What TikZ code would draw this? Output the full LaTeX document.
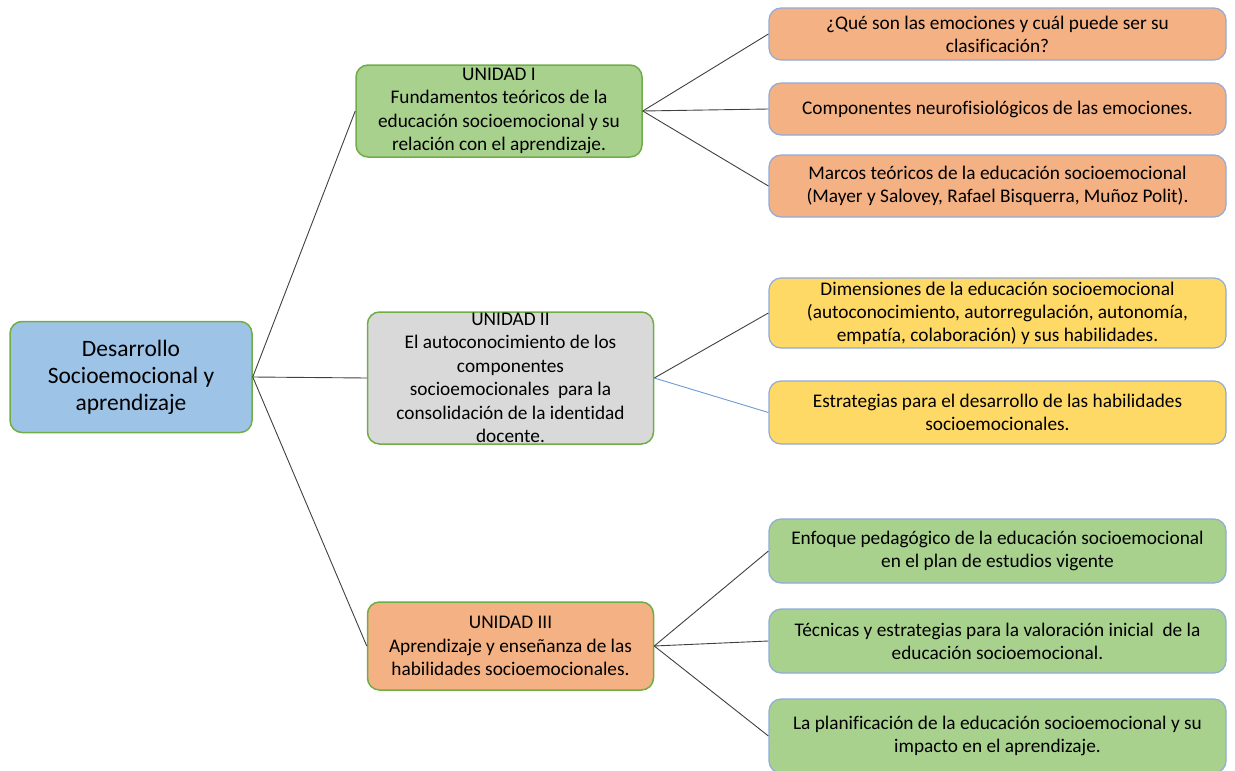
\documentclass[tikz,border=0pt]{standalone}
\usepackage{fontspec}
\setmainfont{Carlito}[Ligatures=NoCommon]
\usepackage{tikz}
\usetikzlibrary{positioning}

\definecolor{azulraiz}{HTML}{9DC3E6}
\definecolor{verdeborde}{HTML}{70AD47}
\definecolor{verdefondo}{HTML}{A9D18E}
\definecolor{grisfondo}{HTML}{D9D9D9}
\definecolor{naranjafondo}{HTML}{F4B183}
\definecolor{amarillofondo}{HTML}{FFD966}
\definecolor{bordeazul}{HTML}{8FAADC}
\definecolor{lineagris}{HTML}{404040}
\definecolor{lineaazul}{HTML}{6A9BD3}

\begin{document}
\begin{tikzpicture}[x=1pt,y=-1pt,
        caja/.style={rounded corners=12pt, align=center, inner sep=0pt, text=black},
        raizbox/.style={caja, draw=verdeborde, line width=1.5pt, fill=azulraiz,
            minimum width=242pt, minimum height=111pt, font=\fontsize{23.5}{27}\selectfont},
        unidadbox/.style={caja, draw=verdeborde, line width=1.5pt,
            minimum width=286pt, font=\fontsize{19.3}{23.5}\selectfont},
        temabox/.style={caja, draw=bordeazul, line width=1.2pt,
            minimum width=457pt, font=\fontsize{19.3}{23}\selectfont},
        rama/.style={draw=lineagris, line width=0.9pt}]
    \useasboundingbox (0,0) rectangle (1235,771);

    % raiz
    \node[raizbox] (raiz) at (131,377) {Desarrollo\\Socioemocional y\\aprendizaje};

    % unidades
    \node[unidadbox, fill=verdefondo, minimum height=92pt] (u1) at (499,111)
        {UNIDAD I\\Fundamentos teóricos de la\\educación socioemocional y su\\relación con el aprendizaje.};
    \node[unidadbox, fill=grisfondo, minimum height=132pt] (u2) at (510.5,378)
        {UNIDAD II\\El autoconocimiento de los\\componentes\\socioemocionales\ \ para la\\consolidación de la identidad\\docente.};
    \node[unidadbox, fill=naranjafondo, minimum height=88pt] (u3) at (510.5,646)
        {UNIDAD III\\Aprendizaje y enseñanza de las\\habilidades socioemocionales.};

    % temas unidad I
    \node[temabox, fill=naranjafondo, minimum height=52pt] (t11) at (997.5,34)
        {¿Qué son las emociones y cuál puede ser su\\clasificación?};
    \node[temabox, fill=naranjafondo, minimum height=52pt] (t12) at (997.5,109)
        {Componentes neurofisiológicos de las emociones.};
    \node[temabox, fill=naranjafondo, minimum height=62pt] (t13) at (997.5,186)
        {Marcos teóricos de la educación socioemocional\\(Mayer y Salovey, Rafael Bisquerra, Muñoz Polit).};

    % temas unidad II
    \node[temabox, fill=amarillofondo, minimum height=70pt] (t21) at (997.5,313)
        {Dimensiones de la educación socioemocional\\(autoconocimiento, autorregulación, autonomía,\\empatía, colaboración) y sus habilidades.};
    \node[temabox, fill=amarillofondo, minimum height=63pt] (t22) at (997.5,412.5)
        {Estrategias para el desarrollo de las habilidades\\socioemocionales.};

    % temas unidad III
    \node[temabox, fill=verdefondo, minimum height=64pt] (t31) at (997.5,551)
        {Enfoque pedagógico de la educación socioemocional\\en el plan de estudios vigente};
    \node[temabox, fill=verdefondo, minimum height=64pt] (t32) at (997.5,641)
        {Técnicas y estrategias para la valoración inicial\ \ de la\\educación socioemocional.};
    \node[temabox, fill=verdefondo, minimum height=74pt] (t33) at (997.5,736)
        {La planificación de la educación socioemocional y su\\impacto en el aprendizaje.};

    % ramas
    \foreach \u in {u1,u2,u3}
        \draw[rama] (raiz.east) -- (\u.west);
    \foreach \t in {t11,t12,t13}
        \draw[rama] (u1.east) -- (\t.west);
    \draw[rama] (u2.east) -- (t21.west);
    \draw[rama, draw=lineaazul] (u2.east) -- (t22.west);
    \foreach \t in {t31,t32,t33}
        \draw[rama] (u3.east) -- (\t.west);
\end{tikzpicture}
\end{document}
